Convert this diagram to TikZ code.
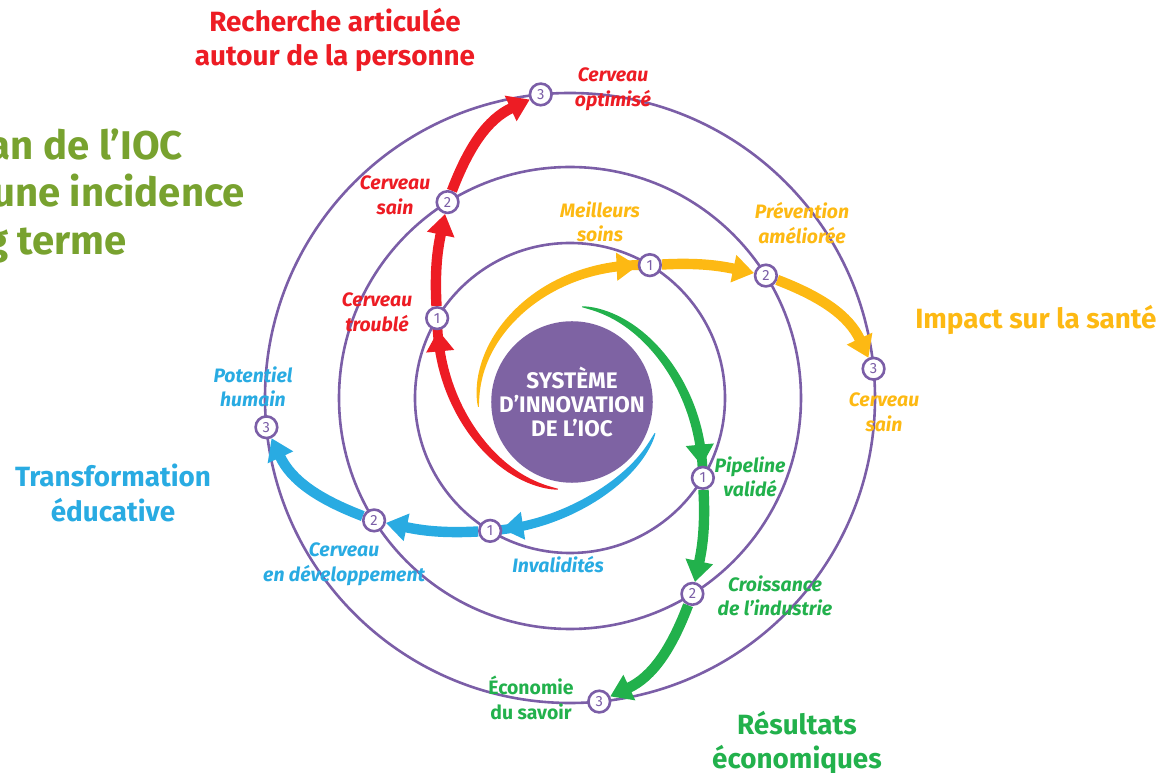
\documentclass[tikz,border=0pt]{standalone}
\usepackage{fontspec}
\setmainfont{Fira Sans}
\usetikzlibrary{arrows.meta}
\definecolor{ioc}{HTML}{7E63A3}
\definecolor{ring}{HTML}{7B5EA7}
\definecolor{cred}{HTML}{ED1C24}
\definecolor{cyel}{HTML}{FDB913}
\definecolor{cgrn}{HTML}{22B14C}
\definecolor{cblu}{HTML}{29ABE2}
\definecolor{olive}{HTML}{78A22F}
\pgfdeclarelayer{under}
\pgfsetlayers{under,main}

\begin{document}
\begin{tikzpicture}[x=0.025cm,y=0.025cm,
  ringline/.style={draw=ring, line width=1.85pt},
  stepnode/.style={circle, draw=ring, line width=1.85pt, fill=white,
    minimum size=15.4pt, inner sep=0pt, text=ring,
    font=\fontsize{10.5}{11}\selectfont},
  band/.style={line width=7.4pt, -{Triangle[width=19pt,length=15pt]}},
  tag/.style={font=\fontsize{13.8}{17.5}\selectfont\bfseries\itshape,
    align=center, inner sep=0pt},
  tagup/.style={font=\fontsize{13.8}{17.5}\selectfont\bfseries,
    align=center, inner sep=0pt},
  headline/.style={font=\fontsize{19.8}{24.5}\selectfont\bfseries,
    align=center, inner sep=0pt},
  bigline/.style={font=\fontsize{28.5}{34}\selectfont\bfseries,
    text=olive, inner sep=0pt, anchor=base east},
]
\useasboundingbox (-570,-375) rectangle (592,398);
\clip (-570,-375) rectangle (592,398);

% concentric rings
\begin{pgfonlayer}{under}
  \draw[ringline] (0,0) circle (155);
  \draw[ringline] (0,0) circle (231);
  \draw[ringline] (0,0) circle (305);
\end{pgfonlayer}

% central system
\node[circle, fill=ioc, minimum size=111pt, inner sep=0pt, text=white,
  align=center, font=\fontsize{16}{17.2}\selectfont\bfseries]
  (core) at (2,-4) {SYSTÈME\\D’INNOVATION\\DE L’IOC};

% four spiralling streams, each a quarter turn from the previous one
\foreach \k/\clr/\tipa/\sweep in {0/cred/263/114, 1/cyel/276/127, 2/cgrn/263/114, 3/cblu/248/99} {
  \pgfmathsetmacro\ta{149-90*\k}
  \pgfmathsetmacro\tb{122-90*\k}
  \pgfmathsetmacro\tc{95.5-90*\k}
  \pgfmathsetmacro\oa{93-90*\k}
  \pgfmathsetmacro\ia{258-90*\k}
  \pgfmathsetmacro\ob{69-90*\k}
  \pgfmathsetmacro\ib{205-90*\k}
  \pgfmathsetmacro\st{\tipa-90*\k}
  \pgfmathsetmacro\hs{\st-\sweep+10}
  \pgfmathsetmacro\hr{90+65*((\sweep-10)/\sweep)^3}
  \node[stepnode] (a\k) at (\ta:155) {1};
  \node[stepnode] (b\k) at (\tb:231) {2};
  \node[stepnode] (c\k) at (\tc:305) {3};
  \begin{pgfonlayer}{under}
    \fill[\clr] plot[variable=\t, domain=0.5:\sweep, samples=60, smooth]
        ({\st-\t}:{92+63*(\t/\sweep)^3+5.8*(\t/\sweep)^0.5})
      -- plot[variable=\t, domain=\sweep:0.5, samples=60, smooth]
        ({\st-\t}:{92+63*(\t/\sweep)^3-5.8*(\t/\sweep)^0.5})
      -- cycle;
    \coordinate (h\k) at (\hs:\hr);
    \draw[band, \clr] (h\k) -- (a\k);
    \draw[band, \clr] (a\k) to[out=\oa, in=\ia] (b\k);
    \draw[band, \clr] (b\k) to[out=\ob, in=\ib] (c\k);
  \end{pgfonlayer}
}

% red stream labels
\node[headline, text=cred] (hred) at (-235,358) {Recherche articulée\\autour de la personne};
\node[tag, text=cred] (lr3) at (43,309) {Cerveau\\optimisé};
\node[tag, text=cred] (lr2) at (-175,203) {Cerveau\\sain};
\node[tag, text=cred] (lr1) at (-193,86) {Cerveau\\troublé};

% yellow stream labels
\node[tag, text=cyel] (ly1) at (30,176) {Meilleurs\\soins};
\node[tag, text=cyel] (ly2) at (232,175) {Prévention\\améliorée};
\node[tag, text=cyel] (ly3) at (314,-14) {Cerveau\\sain};
\node[headline, text=cyel, anchor=west] (hyel) at (345,78) {Impact sur la santé};

% green stream labels
\node[tag, text=cgrn] (lg1) at (180,-79) {Pipeline\\validé};
\node[tag, text=cgrn] (lg2) at (205,-198) {Croissance\\de l’industrie};
\node[tagup, text=cgrn] (lg3) at (-39,-300) {Économie\\du savoir};
\node[headline, text=cgrn] (hgrn) at (227,-345) {Résultats\\économiques};

% blue stream labels
\node[tag, text=cblu] (lb3) at (-317,11) {Potentiel\\humain};
\node[tag, text=cblu] (lb2) at (-226,-166) {Cerveau\\en développement};
\node[tag, text=cblu] (lb1) at (-12,-167) {Invalidités};
\node[headline, text=cblu] (hblu) at (-457,-95) {Transformation\\éducative};

% heading running off the left edge
\node[bigline] (t1) at (-387,238) {an de l’IOC};
\node[bigline] (t2) at (-325,191) {une incidence};
\node[bigline] (t3) at (-443,143) {g terme};
\end{tikzpicture}
\end{document}
